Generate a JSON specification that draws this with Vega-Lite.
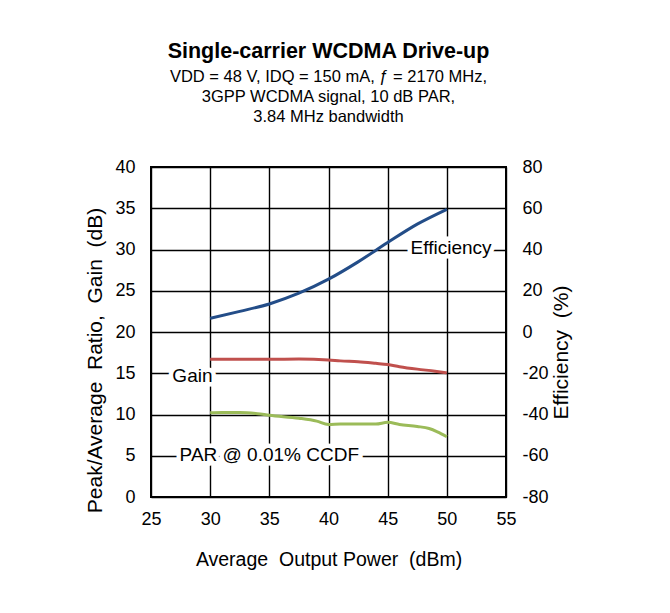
{
  "$schema": "https://vega.github.io/schema/vega-lite/v6.json",
  "width": 355,
  "height": 330,
  "autosize": {"type": "none"},
  "padding": {"left": 151, "top": 167, "right": 164, "bottom": 116},
  "background": "white",
  "config": {
    "font": "Liberation Sans",
    "view": {"stroke": "black", "strokeWidth": 2},
    "axis": {
      "labelColor": "black",
      "titleColor": "black",
      "labelFontSize": 18,
      "titleFontSize": 20,
      "titleFontWeight": "normal",
      "ticks": false,
      "domain": false,
      "gridColor": "black",
      "gridWidth": 1.4,
      "gridOpacity": 1,
      "labelFlush": false,
      "labelOverlap": false,
      "labelExpr": "replace(datum.label, '−', '-')"
    }
  },
  "title": {
    "text": "Single-carrier WCDMA Drive-up",
    "subtitle": ["VDD = 48 V, IDQ = 150 mA, ƒ = 2170 MHz,", "3GPP WCDMA signal, 10 dB PAR,", "3.84 MHz bandwidth"],
    "fontSize": 21.5,
    "fontWeight": "bold",
    "color": "black",
    "subtitleFontSize": 16.5,
    "subtitleColor": "black",
    "subtitleLineHeight": 20,
    "subtitlePadding": 6,
    "offset": 33,
    "anchor": "middle"
  },
  "datasets": {
    "curves": [
      {"power": 30, "series": "Gain", "value": 16.7},
      {"power": 32.5, "series": "Gain", "value": 16.7},
      {"power": 35, "series": "Gain", "value": 16.7},
      {"power": 37.5, "series": "Gain", "value": 16.72},
      {"power": 40, "series": "Gain", "value": 16.62},
      {"power": 41, "series": "Gain", "value": 16.5},
      {"power": 42.5, "series": "Gain", "value": 16.4},
      {"power": 44, "series": "Gain", "value": 16.2},
      {"power": 45, "series": "Gain", "value": 16.05},
      {"power": 46, "series": "Gain", "value": 15.8},
      {"power": 47.5, "series": "Gain", "value": 15.5},
      {"power": 49, "series": "Gain", "value": 15.25},
      {"power": 50, "series": "Gain", "value": 15.05},
      {"power": 30, "series": "PAR", "value": 10.2},
      {"power": 31, "series": "PAR", "value": 10.25},
      {"power": 32.5, "series": "PAR", "value": 10.25},
      {"power": 34, "series": "PAR", "value": 10.1},
      {"power": 35, "series": "PAR", "value": 9.9},
      {"power": 37.5, "series": "PAR", "value": 9.55},
      {"power": 39, "series": "PAR", "value": 9.2},
      {"power": 40, "series": "PAR", "value": 8.8},
      {"power": 41, "series": "PAR", "value": 8.85},
      {"power": 42.5, "series": "PAR", "value": 8.85},
      {"power": 44, "series": "PAR", "value": 8.85},
      {"power": 45, "series": "PAR", "value": 9.05},
      {"power": 46, "series": "PAR", "value": 8.8},
      {"power": 47.5, "series": "PAR", "value": 8.55},
      {"power": 48.5, "series": "PAR", "value": 8.3},
      {"power": 49.2, "series": "PAR", "value": 7.9},
      {"power": 50, "series": "PAR", "value": 7.3}
    ],
    "efficiency": [
      {"power": 30, "eff": 6.6},
      {"power": 32.5, "eff": 10},
      {"power": 35, "eff": 13.6},
      {"power": 37.5, "eff": 18.8},
      {"power": 40, "eff": 25.6},
      {"power": 42.5, "eff": 34},
      {"power": 45, "eff": 43.4},
      {"power": 47.5, "eff": 52.3},
      {"power": 50, "eff": 59.5}
    ],
    "labels": [
      {"power": 50.36, "db": 30.2, "text": "Efficiency"},
      {"power": 28.5, "db": 14.7, "text": "Gain"},
      {"power": 35, "db": 5.1, "text": "PAR @ 0.01% CCDF"}
    ]
  },
  "layer": [
    {
      "layer": [
        {
          "data": {"name": "curves"},
          "mark": {"type": "line", "strokeWidth": 3, "interpolate": "monotone"},
          "encoding": {
            "x": {
              "field": "power", "type": "quantitative",
              "scale": {"domain": [25, 55], "nice": false, "zero": false},
              "axis": {
                "orient": "bottom",
                "values": [25, 30, 35, 40, 45, 50, 55],
                "grid": true,
                "labelPadding": 13,
                "title": "Average\u00a0 Output Power\u00a0 (dBm)",
                "titleFontSize": 19.5,
                "titlePadding": 22
              }
            },
            "y": {
              "field": "value", "type": "quantitative",
              "scale": {"domain": [0, 40], "nice": false},
              "axis": {
                "orient": "left",
                "values": [0, 5, 10, 15, 20, 25, 30, 35, 40],
                "grid": true,
                "labelPadding": 16,
                "title": "Peak/Average\u00a0 Ratio,\u00a0 Gain\u00a0 (dB)",
                "titleFontSize": 21,
                "titlePadding": 9,
                "titleY": 193
              }
            },
            "color": {
              "field": "series", "type": "nominal",
              "scale": {"domain": ["Gain", "PAR"], "range": ["#c0504d", "#9bbb59"]},
              "legend": null
            }
          }
        },
        {
          "data": {"name": "labels"},
          "mark": {"type": "text", "fontSize": 19, "fill": "white", "stroke": "white", "strokeWidth": 9, "align": "center", "baseline": "middle"},
          "encoding": {
            "x": {"field": "power", "type": "quantitative"},
            "y": {"field": "db", "type": "quantitative"},
            "text": {"field": "text"}
          }
        },
        {
          "data": {"name": "labels"},
          "mark": {"type": "text", "fontSize": 19, "color": "black", "align": "center", "baseline": "middle"},
          "encoding": {
            "x": {"field": "power", "type": "quantitative"},
            "y": {"field": "db", "type": "quantitative"},
            "text": {"field": "text"}
          }
        }
      ]
    },
    {
      "data": {"name": "efficiency"},
      "mark": {"type": "line", "strokeWidth": 3, "interpolate": "monotone", "color": "#234d88"},
      "encoding": {
        "x": {"field": "power", "type": "quantitative"},
        "y": {
          "field": "eff", "type": "quantitative",
          "scale": {"domain": [-80, 80], "nice": false},
          "axis": {
            "orient": "right",
            "values": [-80, -60, -40, -20, 0, 20, 40, 60, 80],
            "grid": false,
            "labelPadding": 16,
            "title": "Efficiency\u00a0 (%)",
            "titleFontSize": 21,
            "titleAngle": 270,
            "titleBaseline": "top",
            "titlePadding": 2,
            "titleY": 185
          }
        }
      }
    }
  ],
  "resolve": {"scale": {"y": "independent"}}
}
